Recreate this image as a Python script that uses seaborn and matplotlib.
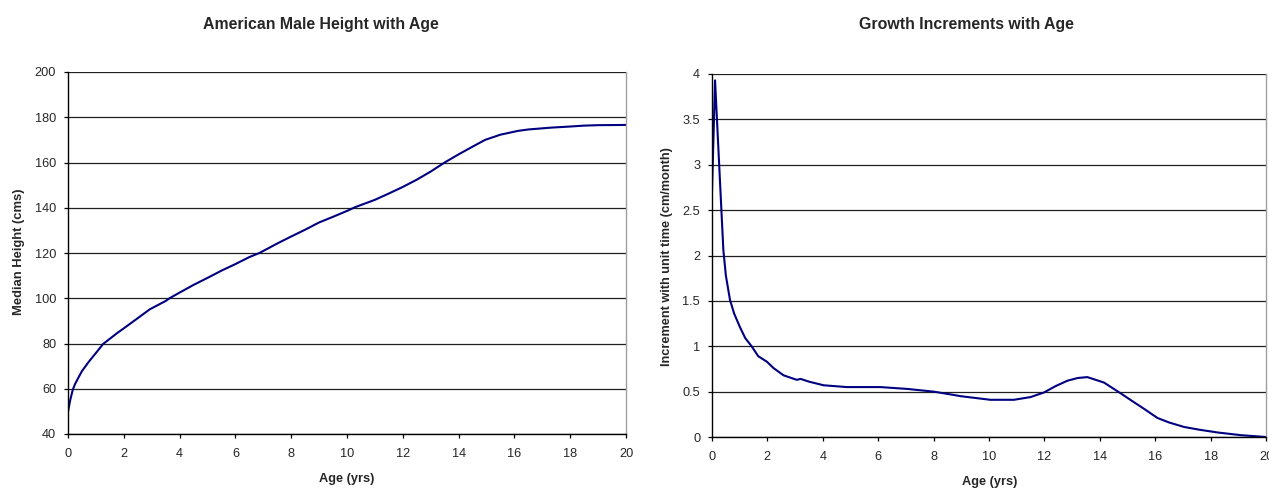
import matplotlib
matplotlib.use("Agg")
import matplotlib.pyplot as plt
import pandas as pd
import seaborn as sns

# Median height of American males by age (cm)
height_age = [0, 0.08, 0.17, 0.25, 0.42, 0.5, 0.75, 1.0, 1.26, 1.5, 1.75, 2.0, 2.5, 2.93,
              3.5, 3.64, 4.0, 4.5, 5.0, 5.5, 6.0, 6.5, 6.86, 7.5, 8.0, 8.5, 9.0, 9.5,
              10.0, 10.3, 11.0, 11.5, 12.0, 12.5, 13.0, 13.5, 14.0, 14.5, 14.95, 15.5,
              16.14, 16.5, 17.3, 18.0, 18.5, 19.0, 20.0]
height_cm = [49.9, 55.0, 59.5, 62.0, 66.0, 67.8, 72.0, 75.8, 79.8, 82.1, 84.5, 86.7, 91.2,
             95.1, 98.8, 100.0, 102.5, 105.9, 109.0, 112.2, 115.1, 118.2, 120.0, 124.2,
             127.3, 130.3, 133.5, 136.0, 138.6, 140.3, 143.5, 146.3, 149.2, 152.4, 156.0,
             160.0, 163.6, 167.0, 170.0, 172.3, 174.0, 174.6, 175.4, 175.9, 176.3, 176.5,
             176.6]

# Monthly growth increment by age (cm/month)
incr_age = [0, 0.11, 0.41, 0.5, 0.65, 0.8, 1.01, 1.2, 1.43, 1.67, 1.98, 2.22, 2.58, 3.06,
            3.2, 3.5, 4.03, 4.87, 6.08, 7.04, 8.0, 8.6, 8.97, 10.05, 10.9, 11.5, 11.98,
            12.4, 12.83, 13.2, 13.55, 14.15, 14.76, 15.2, 15.6, 16.08, 16.5, 17.05, 17.6,
            18.25, 19.1, 20.0]
incr_cm = [2.71, 3.93, 2.06, 1.78, 1.51, 1.36, 1.21, 1.09, 1.0, 0.89, 0.83, 0.76, 0.68,
           0.63, 0.64, 0.61, 0.57, 0.55, 0.55, 0.53, 0.50, 0.47, 0.45, 0.41, 0.41, 0.44,
           0.49, 0.56, 0.62, 0.65, 0.66, 0.60, 0.48, 0.39, 0.31, 0.21, 0.16, 0.11, 0.08,
           0.05, 0.02, 0.0]

age_ticks = list(range(0, 21, 2))
height_ticks = list(range(40, 201, 20))
incr_ticks = [0, 0.5, 1, 1.5, 2, 2.5, 3, 3.5, 4]
incr_tick_labels = ["0", "0.5", "1", "1.5", "2", "2.5", "3", "3.5", "4"]

sns.set_style("white")
plt.rcParams["font.family"] = ["Liberation Sans", "DejaVu Sans"]

W, H = 1269, 488
fig = plt.figure(figsize=(W / 100, H / 100), dpi=100)

LINE = "#000080"
GRID = "#202020"


def make_axes(x0, y0, x1, y1):
    return fig.add_axes([x0 / W, 1 - y1 / H, (x1 - x0) / W, (y1 - y0) / H])


def put_text(x, y, s, size, rotation=0):
    fig.text(x / W, 1 - y / H, s, ha="center", va="center", fontsize=size,
             fontweight="bold", rotation=rotation)


def style(ax, yticks, ylabels):
    ax.set_xlim(0, 20)
    ax.set_xticks(age_ticks)
    ax.set_yticks(yticks)
    ax.set_yticklabels(ylabels)
    ax.yaxis.grid(True, color=GRID, linewidth=0.9)
    ax.xaxis.grid(False)
    ax.spines["top"].set_visible(False)
    ax.spines["right"].set_color("#a0a0a0")
    ax.spines["right"].set_linewidth(1.0)
    for side in ("left", "bottom"):
        ax.spines[side].set_color("black")
        ax.spines[side].set_linewidth(1.0)
    ax.tick_params(axis="both", which="major", direction="out", length=3, width=0.9,
                   color="black", labelsize=9.2, bottom=True, left=True)
    ax.tick_params(axis="x", pad=7)
    ax.tick_params(axis="y", pad=5.5)
    ax.set_xlabel("")
    ax.set_ylabel("")
    ax.set_axisbelow(True)


# Left: height curve
ax1 = make_axes(68, 72, 626, 434)
df_h = pd.DataFrame({"age": height_age, "height": height_cm})
sns.lineplot(data=df_h, x="age", y="height", ax=ax1, color=LINE, linewidth=1.5)
ax1.set_ylim(40, 200)
style(ax1, height_ticks, [str(v) for v in height_ticks])
put_text(347, 479, "Age (yrs)", 9.2)
put_text(19, 252, "Median Height (cms)", 9.4, rotation=90)
put_text(320.5, 24, "American Male Height with Age", 11.4)

# Right: monthly increments
ax2 = make_axes(712, 74, 1266, 437)
df_i = pd.DataFrame({"age": incr_age, "increment": incr_cm})
sns.lineplot(data=df_i, x="age", y="increment", ax=ax2, color=LINE, linewidth=1.5)
ax2.set_ylim(0, 4)
style(ax2, incr_ticks, incr_tick_labels)
put_text(990, 482, "Age (yrs)", 9.2)
put_text(667, 257, "Increment with unit time (cm/month)", 9.2, rotation=90)
put_text(966, 24.5, "Growth Increments with Age", 11.4)

fig.savefig("out.png", dpi=100, facecolor="white")
